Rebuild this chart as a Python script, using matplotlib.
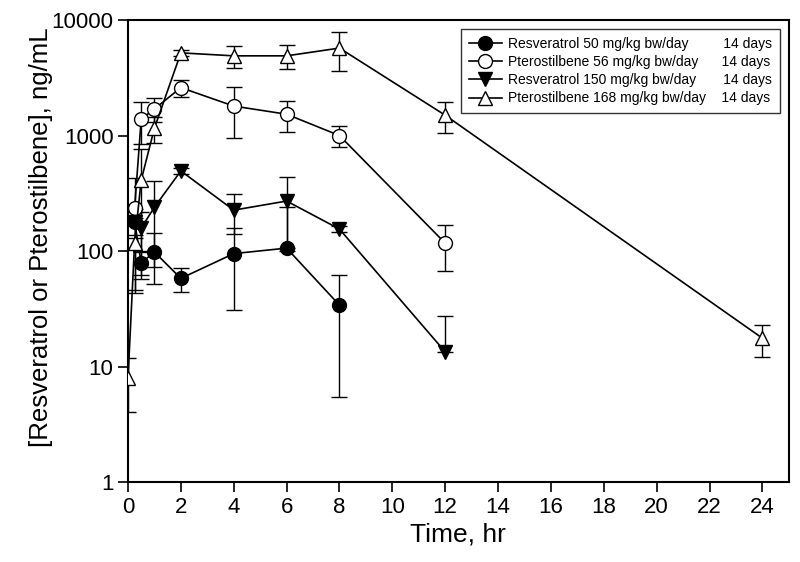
import numpy as np
import matplotlib
matplotlib.use("Agg")
import matplotlib.pyplot as plt
from matplotlib.ticker import FixedLocator, NullLocator

plt.rcParams["font.family"] = ["Liberation Sans", "DejaVu Sans"]

# 各系列の時間 (hr)、平均値と SD (ng/mL)
res50_t = [0.25, 0.5, 1, 2, 4, 6, 8]
res50_mean = [178, 79, 98, 58, 95, 106, 34]
res50_sd = [40, 22, 46, 14, 64, 134, 28.5]

pte56_t = [0.25, 0.5, 1, 2, 4, 6, 8, 12]
pte56_mean = [236, 1390, 1700, 2600, 1800, 1530, 1000, 117]
pte56_sd = [190, 550, 400, 450, 850, 450, 200, 50]

res150_t = [0.25, 0.5, 1, 2, 4, 6, 8, 12]
res150_mean = [180, 158, 240, 494, 226, 271, 155, 13.4]
res150_sd = [50, 60, 167, 30, 85, 170, 10, 14]

pte168_t = [0, 0.25, 0.5, 1, 2, 4, 6, 8, 12, 24]
pte168_mean = [7.9, 118, 412, 1160, 5200, 4900, 4900, 5720, 1500, 17.6]
pte168_sd = [3.9, 75, 350, 300, 300, 1050, 1150, 2100, 450, 5.5]

labels = [
    "Resveratrol 50 mg/kg bw/day         14 days",
    "Pterostilbene 56 mg/kg bw/day      14 days",
    "Resveratrol 150 mg/kg bw/day       14 days",
    "Pterostilbene 168 mg/kg bw/day    14 days",
]

series = [
    (res50_t, res50_mean, res50_sd, "o", "black", 10),
    (pte56_t, pte56_mean, pte56_sd, "o", "white", 10),
    (res150_t, res150_mean, res150_sd, "v", "black", 10.5),
    (pte168_t, pte168_mean, pte168_sd, "^", "white", 10.5),
]

fig = plt.figure(figsize=(8, 5.62), dpi=100)
ax = fig.add_axes([0.16, 0.1423, 0.826, 0.822])

for (t, m, sd, mk, fc, ms), lab in zip(series, labels):
    m = np.array(m, dtype=float)
    sd = np.array(sd, dtype=float)
    # 下限が 0 以下になる場合は下側のエラーバーを描かない
    lower = np.where(sd >= m, 0, sd)
    ax.errorbar(t, m, yerr=[lower, sd], fmt="none", ecolor="black",
                elinewidth=1, capsize=6, capthick=1, zorder=2)
    ax.plot(t, m, marker=mk, color="black", markerfacecolor=fc,
            markeredgecolor="black", markersize=ms, linewidth=1.2,
            label=lab, zorder=3)

ax.set_yscale("log")
ax.set_xlim(0, 25)
ax.set_ylim(1, 10000)
ax.xaxis.set_major_locator(FixedLocator(np.arange(0, 25, 2)))
ax.yaxis.set_major_locator(FixedLocator([1, 10, 100, 1000, 10000]))
ax.yaxis.set_minor_locator(NullLocator())
ax.set_yticklabels(["1", "10", "100", "1000", "10000"])
ax.tick_params(axis="both", direction="out", length=7, width=1.2,
               labelsize=16, colors="black")
ax.tick_params(axis="x", pad=4)
for sp in ax.spines.values():
    sp.set_linewidth(1.5)

ax.set_xlabel("Time, hr", fontsize=19, labelpad=3)
ax.set_ylabel("[Resveratrol or Pterostilbene], ng/mL", fontsize=18.5)
ax.yaxis.set_label_coords(-0.113, 0.53)

leg = ax.legend(loc="upper right", bbox_to_anchor=(0.997, 0.995), fontsize=10,
                frameon=True, fancybox=False, edgecolor="black",
                handlelength=2.4, borderpad=0.55, labelspacing=0.3,
                handletextpad=0.45)
leg.get_frame().set_linewidth(1.0)

fig.savefig("out.png", dpi=100)
